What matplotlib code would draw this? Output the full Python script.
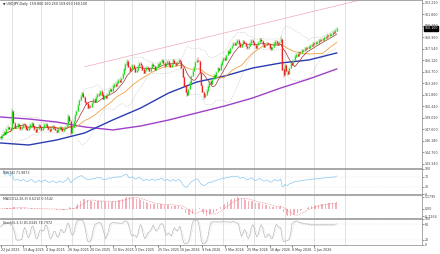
import numpy as np
import pandas as pd
import matplotlib
matplotlib.use('Agg')
import matplotlib.pyplot as plt
import matplotlib.transforms as mtrans

# daily closes, first bar = 22 Jul 2025
closes = [
    146.6, 146.9, 147.3, 147.1, 147.6, 147.9,
    147.7, 147.6, 149.9, 148.4, 147.8,
    147.9, 148.2, 148.0, 147.6, 147.9, 148.3, 148.1, 147.7, 147.5, 147.8,
    148.2, 148.4, 148.0, 147.6, 147.3, 147.7, 148.1, 147.9, 147.5, 147.8,
    148.2, 148.3, 147.9, 147.6, 147.4, 147.7, 148.0, 147.8, 147.5, 147.3,
    147.6, 147.9, 147.7, 147.4, 147.6, 147.9, 148.1,
    149.2, 148.6, 147.2,
    147.9, 148.6, 149.4, 149.9, 150.6, 151.2, 151.7, 152.1,
    151.6, 151.0, 150.8, 150.3, 150.5, 150.4,
    150.9, 151.3, 151.0, 151.6, 152.0, 151.8, 152.3,
    151.9, 151.4, 151.7, 151.5, 151.9,
    152.3, 152.6, 152.4, 152.9, 153.2, 153.0, 153.4, 153.7, 153.5, 153.9,
    154.4, 155.0, 155.6, 156.0,
    155.3, 154.8, 155.1, 155.5, 155.2, 154.7, 154.9, 155.4, 155.8, 155.5, 155.0,
    154.6, 154.9, 155.3, 155.1, 154.8, 155.2, 155.6, 155.4, 155.0, 155.3, 155.7,
    155.5, 155.9, 156.2, 155.8, 155.4, 155.7, 156.0, 155.6,
    155.3, 155.7, 156.1, 155.8, 155.5, 155.9, 156.2, 156.0,
    155.2, 154.1, 153.0, 152.2, 151.9,
    152.6, 153.4, 154.2, 154.8, 155.3, 155.9, 156.2, 156.0,
    154.6, 153.1, 152.2, 151.6, 151.9,
    152.4, 152.9, 153.5, 153.2, 153.8, 154.3, 154.1, 154.7, 155.2, 155.0, 155.6,
    156.0, 156.4, 156.2, 156.8, 157.3, 157.1, 157.6, 157.9, 158.2, 158.0,
    158.3, 158.6, 158.2, 157.8, 158.1, 158.5, 158.3, 157.9, 157.6, 157.9, 158.3,
    158.6, 158.4, 158.0, 157.7, 158.0, 158.4, 158.7, 158.5, 158.1, 157.8, 158.0,
    158.3, 158.1, 157.7, 157.5, 157.8, 158.2, 158.5, 158.3, 158.0, 158.4, 158.8,
    155.0, 154.3, 155.5, 154.8, 154.5, 155.2, 155.8, 155.6,
    156.2, 156.6, 156.9, 156.7, 157.1, 157.0, 157.4, 157.3, 157.6, 157.5, 157.8,
    157.7, 158.0, 157.9, 158.2, 158.1, 158.4, 158.3, 158.6, 158.5, 158.8, 158.7,
    159.0, 158.9, 159.2, 159.1, 159.4, 159.3, 159.6, 159.5, 159.8, 160.1,
]
# a few long wicks
spike_high = {8: 150.3, 48: 149.5, 90: 156.3, 141: 156.5, 200: 159.1}
spike_low = {50: 146.8, 133: 151.6, 145: 151.3, 202: 154.0}

# moving averages sampled every 20 bars (slow blue, long purple)
ma_bars = [0, 20, 40, 60, 80, 100, 120, 140, 160, 180, 200, 220, 240]
ma_blue = [145.93, 145.68, 146.30, 147.17, 148.77, 150.25, 152.11, 153.46,
           154.20, 155.19, 155.81, 156.18, 157.05]
ma_purple = [149.14, 148.89, 148.52, 147.91, 147.54, 148.03, 148.77, 149.64,
             150.50, 151.49, 152.72, 153.83, 155.07]

# user trendline
trend_bars = [60, 300]
trend_prices = [155.34, 165.40]

price_ticks = [163.220, 161.800, 160.380, 158.960, 157.540, 156.120, 154.700,
               153.280, 151.860, 150.440, 149.020, 147.600, 146.180, 144.760,
               143.340]

c = pd.Series(closes)
n = len(c)
o = c.shift(1).fillna(c[0] - 0.2)
h = np.maximum(o, c) + 0.15
l = np.minimum(o, c) - 0.15
for k, v in spike_high.items():
    h[k] = v
for k, v in spike_low.items():
    l[k] = v
x = np.arange(n)
dates = pd.bdate_range('2025-07-22', periods=260)

# indicators
ma_red = c.rolling(10, min_periods=1).mean()
ma_orange = c.rolling(30, min_periods=1).mean()
bb_mid = c.rolling(20, min_periods=2).mean()
bb_sd = c.rolling(20, min_periods=2).std()

d = c.diff()
up = d.clip(lower=0).ewm(alpha=1/14).mean()
dn = (-d.clip(upper=0)).ewm(alpha=1/14).mean()
rsi = 100 - 100 / (1 + up / dn)

macd = c.ewm(span=12).mean() - c.ewm(span=26).mean()
sig = macd.rolling(9, min_periods=1).mean()

ll = l.rolling(5, min_periods=1).min()
hh = h.rolling(5, min_periods=1).max()
k_line = ((c - ll).rolling(3, min_periods=1).sum() /
          (hh - ll).rolling(3, min_periods=1).sum() * 100)
d_line = k_line.rolling(3, min_periods=1).mean()

W, H = 440, 254
fig = plt.figure(figsize=(4.4, 2.54), dpi=100)


def panel(top, bot):
    return fig.add_axes([0, 1 - bot / H, 422 / W, (bot - top) / H])


main = panel(0, 168)
p_rsi = panel(169, 194)
p_macd = panel(195, 218)
p_sto = panel(219, 245)
axes = [main, p_rsi, p_macd, p_sto]

month_starts = [i for i in range(1, 250) if dates[i].month != dates[i - 1].month]
fs = 2.3
for ax in axes:
    ax.set_xlim(-0.5, 300.9)
    for m in month_starts:
        ax.axvline(m, color='#d4d4d4', lw=0.5, zorder=0)
    ax.yaxis.tick_right()
    ax.tick_params(axis='y', labelsize=fs, length=1.2, width=0.4, pad=0.8,
                   colors='#444444')
    ax.tick_params(axis='x', length=0, labelbottom=False)
    for s in ax.spines.values():
        s.set_color('#9a9a9a')
        s.set_linewidth(0.6)
    ax.spines['left'].set_visible(False)

# price panel
main.set_ylim(142.84, 163.59)
main.set_yticks(price_ticks)
main.set_yticklabels(['%.3f' % t for t in price_ticks])
main.plot(x, bb_mid + 2 * bb_sd, color='#b4b4b4', lw=0.35, ls=(0, (2, 2)))
main.plot(x, bb_mid - 2 * bb_sd, color='#b4b4b4', lw=0.35, ls=(0, (2, 2)))
main.plot(trend_bars, trend_prices, color='#f0a8b8', lw=0.5)
main.plot(ma_bars, ma_purple, color='#a040c8', lw=1.0)
main.plot(ma_bars, ma_blue, color='#2a3cb0', lw=1.0)
main.plot(x, ma_orange, color='#f0a040', lw=0.6)
main.plot(x, ma_red, color='#a03030', lw=0.5)

col = np.where(c >= o, '#22dd22', '#ee2020')
main.vlines(x, l, h, colors=col, lw=0.3)
main.vlines(x, np.minimum(o, c), np.maximum(o, c) + 0.03, colors=col, lw=0.85)

last = c.iloc[-1]
tr = mtrans.blended_transform_factory(main.transAxes, main.transData)
main.text(1.006, last, '%.3f' % last, transform=tr, fontsize=fs, color='white',
          va='center', ha='left', zorder=5,
          bbox=dict(boxstyle='square,pad=0.12', fc='black', ec='black'))
main.text(0.006, 0.99, '\u25bc USDJPY,Daily  %.3f %.3f %.3f %.3f'
          % (o.iloc[-1], h.iloc[-1], l.iloc[-1], last),
          transform=main.transAxes, fontsize=fs, va='top', color='#222222')

# RSI
p_rsi.set_ylim(0, 100)
p_rsi.set_yticks([0, 30, 70, 100])
p_rsi.set_yticklabels(['0', '30', '70', '100'])
for lv in (30, 70):
    p_rsi.axhline(lv, color='#cccccc', lw=0.3, ls=':')
p_rsi.plot(x, rsi, color='#8cc8f0', lw=0.5)
p_rsi.text(0.006, 0.93, 'RSI(14) %.4f' % rsi.iloc[-1], transform=p_rsi.transAxes,
           fontsize=fs, va='top', color='#333333')

# MACD
p_macd.bar(x, macd, width=0.5, color='#f4b0b8', lw=0)
p_macd.plot(x, sig, color='#e06070', lw=0.4, ls=(0, (1.5, 1.5)))
lo, hi_ = macd.min(), macd.max()
p_macd.set_ylim(lo - 0.15, hi_ + 0.15)
p_macd.set_yticks([hi_, 0, lo])
p_macd.set_yticklabels(['%.4f' % hi_, '0.00', '%.4f' % lo])
p_macd.text(0.006, 0.93, 'MACD(12,26,9) %.4f %.4f' % (macd.iloc[-1], sig.iloc[-1]),
            transform=p_macd.transAxes, fontsize=fs, va='top', color='#333333')

# Stochastic
p_sto.set_ylim(0, 100)
p_sto.set_yticks([0, 20, 80, 100])
p_sto.set_yticklabels(['0', '20', '80', '100'])
for lv in (20, 80):
    p_sto.axhline(lv, color='#cccccc', lw=0.3, ls=':')
p_sto.plot(x, k_line, color='#b8b8b8', lw=0.5)
p_sto.plot(x, d_line, color='#d8d8d8', lw=0.4, ls=(0, (2, 1.5)))
p_sto.text(0.006, 0.93, 'Stoch(5,3,3) %.4f %.4f' % (k_line.iloc[-1], d_line.iloc[-1]),
           transform=p_sto.transAxes, fontsize=fs, va='top', color='#333333')

lab_bars = list(range(0, n - 1, 16))
p_sto.set_xticks(lab_bars)
p_sto.set_xticklabels([f'{dates[i].day} {dates[i].strftime("%b %Y")}' for i in lab_bars],
                      fontsize=fs, ha='left', color='#333333')
p_sto.tick_params(axis='x', labelbottom=True, length=1.2, width=0.4, pad=1)

fig.savefig('out.png', dpi=100)
